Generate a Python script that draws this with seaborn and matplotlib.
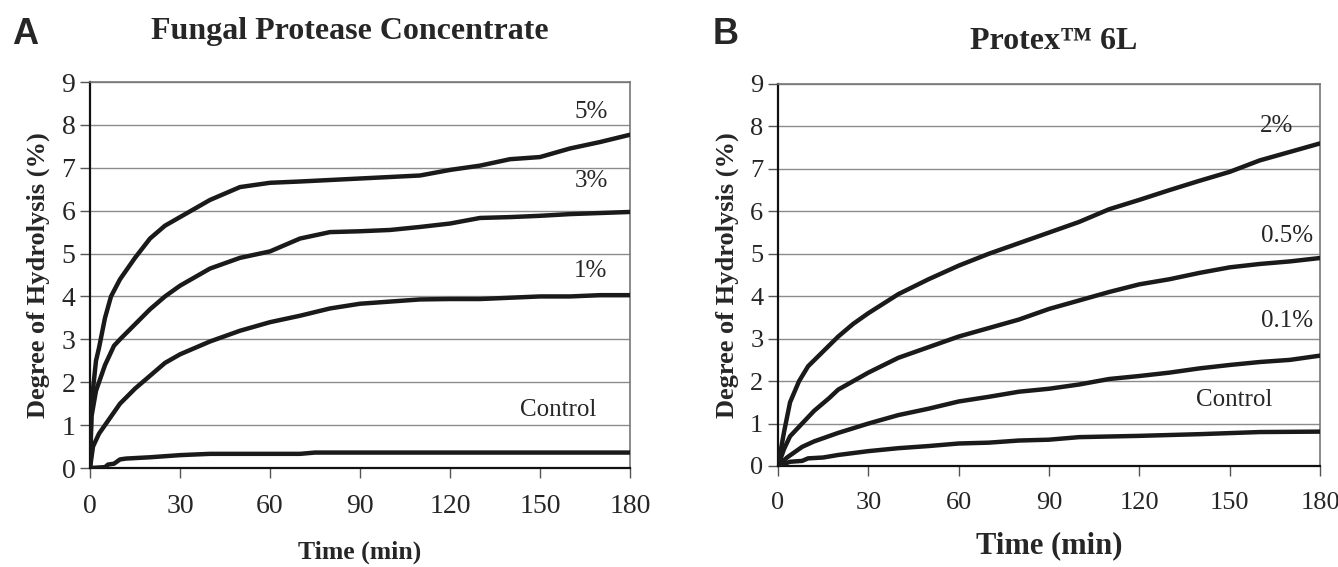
import numpy as np
import pandas as pd
import matplotlib
matplotlib.use("Agg")
import matplotlib.pyplot as plt
import seaborn as sns

# Panel A - Fungal Protease Concentrate
a_5_t = [0, 0.5, 2, 3, 5, 7, 10, 15, 20, 25, 30, 40, 50, 60, 70, 90, 110, 120, 130, 140, 150, 160, 170, 180]
a_5_v = [0, 1.5, 2.5, 2.8, 3.5, 4.0, 4.4, 4.9, 5.35, 5.65, 5.85, 6.25, 6.55, 6.65, 6.68, 6.75, 6.82, 6.95, 7.05, 7.2, 7.25, 7.45, 7.6, 7.77]
a_3_t = [0, 0.5, 2, 5, 8, 10, 15, 20, 25, 30, 40, 50, 60, 70, 80, 90, 100, 110, 120, 130, 140, 150, 160, 180]
a_3_v = [0, 1.2, 1.8, 2.4, 2.85, 3.0, 3.35, 3.7, 4.0, 4.25, 4.65, 4.9, 5.05, 5.35, 5.5, 5.52, 5.55, 5.62, 5.7, 5.83, 5.85, 5.88, 5.92, 5.97]
a_1_t = [0, 1, 3, 6, 8, 10, 15, 20, 25, 30, 40, 50, 60, 70, 80, 90, 100, 110, 120, 130, 140, 150, 160, 170, 180]
a_1_v = [0, 0.5, 0.8, 1.1, 1.3, 1.5, 1.85, 2.15, 2.45, 2.65, 2.95, 3.2, 3.4, 3.55, 3.72, 3.83, 3.88, 3.93, 3.94, 3.94, 3.97, 4.0, 4.0, 4.03, 4.03]
a_c_t = [0, 5, 6, 8, 10, 12, 20, 30, 40, 60, 70, 75, 180]
a_c_v = [0, 0.02, 0.08, 0.1, 0.2, 0.22, 0.25, 0.3, 0.33, 0.33, 0.33, 0.36, 0.36]

# Panel B - Protex 6L
b_2_t = [0, 2, 4, 7, 10, 15, 20, 25, 30, 40, 50, 60, 70, 80, 90, 100, 110, 120, 130, 140, 150, 160, 170, 180]
b_2_v = [0, 0.8, 1.5, 2.0, 2.35, 2.7, 3.05, 3.35, 3.6, 4.05, 4.4, 4.72, 5.0, 5.25, 5.5, 5.75, 6.05, 6.27, 6.5, 6.72, 6.93, 7.2, 7.4, 7.6]
b_05_t = [0, 2, 4, 8, 12, 17, 20, 25, 30, 40, 50, 60, 70, 80, 90, 100, 110, 120, 130, 140, 150, 160, 170, 180]
b_05_v = [0, 0.4, 0.7, 1.0, 1.3, 1.6, 1.8, 2.0, 2.2, 2.55, 2.8, 3.05, 3.25, 3.45, 3.7, 3.9, 4.1, 4.28, 4.4, 4.55, 4.68, 4.76, 4.82, 4.9]
b_01_t = [0, 3, 8, 12, 20, 30, 40, 50, 60, 70, 80, 90, 100, 110, 120, 130, 140, 150, 160, 170, 180]
b_01_v = [0, 0.2, 0.45, 0.58, 0.78, 1.0, 1.2, 1.35, 1.52, 1.63, 1.75, 1.82, 1.92, 2.05, 2.12, 2.2, 2.3, 2.38, 2.45, 2.5, 2.6]
b_c_t = [0, 4, 8, 10, 15, 20, 30, 40, 50, 60, 70, 80, 90, 100, 120, 140, 160, 180]
b_c_v = [0, 0.1, 0.12, 0.18, 0.2, 0.26, 0.35, 0.42, 0.47, 0.53, 0.55, 0.6, 0.62, 0.68, 0.71, 0.75, 0.8, 0.81]

x_ticks = [0, 30, 60, 90, 120, 150, 180]
y_ticks = list(range(10))


def long_df(series):
    frames = []
    for name, (t, v) in series.items():
        frames.append(pd.DataFrame({"Time": t, "DH": v, "Dose": name}))
    return pd.concat(frames, ignore_index=True)


data_a = long_df({"5%": (a_5_t, a_5_v), "3%": (a_3_t, a_3_v),
                  "1%": (a_1_t, a_1_v), "Control": (a_c_t, a_c_v)})
data_b = long_df({"2%": (b_2_t, b_2_v), "0.5%": (b_05_t, b_05_v),
                  "0.1%": (b_01_t, b_01_v), "Control": (b_c_t, b_c_v)})

labels_a = [("5%", 167, 8.3), ("3%", 167, 6.7), ("1%", 167, 4.6), ("Control", 156, 1.35)]
labels_b = [("2%", 165.5, 8.0), ("0.5%", 169, 5.43), ("0.1%", 169, 3.42), ("Control", 151.5, 1.55)]

sns.set_style("white")
plt.rcParams["font.family"] = ["Liberation Serif", "DejaVu Serif"]

fig = plt.figure(figsize=(13.38, 5.67), dpi=100)
ax_a = fig.add_axes([90 / 1338, 99 / 567, 540 / 1338, 386 / 567])
ax_b = fig.add_axes([778 / 1338, 101 / 567, 542 / 1338, 382 / 567])


def style_axes(ax, data, labels, title, title_x, title_pad, tick_size, xlabel_size, xlabel_pad):
    for y in y_ticks[1:]:
        ax.axhline(y, color="#8c8c8c", lw=1.0, zorder=1)
    sns.lineplot(data=data, x="Time", y="DH", units="Dose", estimator=None,
                 color="#1a1a1a", lw=3.2, ax=ax, zorder=3, legend=False)
    ax.set_xlim(0, 180)
    ax.set_ylim(0, 9)
    ax.set_xticks(x_ticks)
    ax.set_yticks(y_ticks)
    ax.tick_params(axis="both", labelsize=tick_size, direction="out", length=7,
                   width=1, color="#555555", left=True, bottom=True)
    ax.tick_params(axis="x", pad=12)
    for s in ["left", "bottom"]:
        ax.spines[s].set_color("#111111")
        ax.spines[s].set_linewidth(1.6)
    for s in ["top", "right"]:
        ax.spines[s].set_color("#777777")
        ax.spines[s].set_linewidth(1.2)
    ax.set_xlabel("Time (min)", fontsize=xlabel_size, fontweight="bold", labelpad=xlabel_pad)
    ax.set_ylabel("Degree of Hydrolysis (%)", fontsize=19, fontweight="bold", labelpad=8)
    ax.set_title(title, fontsize=23, fontweight="bold", pad=title_pad, x=title_x)
    for text, x, y in labels:
        ax.text(x, y, text, fontsize=18, ha="center", va="center", zorder=4)


style_axes(ax_a, data_a, labels_a, "Fungal Protease Concentrate", 0.482, 31, 20, 18.5, 15)
style_axes(ax_b, data_b, labels_b, "Protex\u2122 6L", 0.508, 25, 19, 22, 12)

fig.text(25 / 1338, 1 - 34 / 567, "A", fontsize=26, fontweight="bold",
         family=["Liberation Sans", "DejaVu Sans"], ha="center", va="center")
fig.text(726 / 1338, 1 - 34 / 567, "B", fontsize=26, fontweight="bold",
         family=["Liberation Sans", "DejaVu Sans"], ha="center", va="center")

fig.savefig("out.png", dpi=100)
